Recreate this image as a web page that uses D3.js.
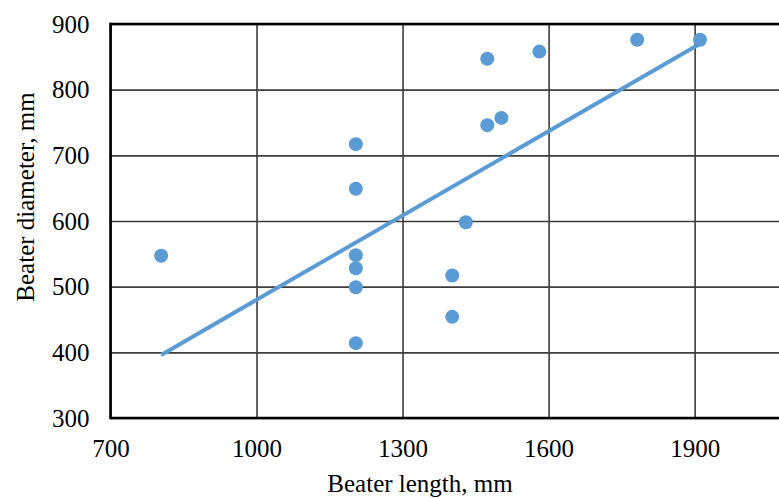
<!DOCTYPE html>
<html>
<head>
<meta charset="utf-8">
<script src="https://cdn.jsdelivr.net/npm/d3@7"></script>
<style>
  body { margin: 0; background: #fff; }
  svg { display: block; }
  .axis text { font-family: "Liberation Serif", "Times New Roman", serif; font-size: 25px; fill: #000; }
  .axis-title { font-family: "Liberation Serif", "Times New Roman", serif; font-size: 25px; fill: #000; }
</style>
</head>
<body>
<div id="chart"></div>
<script>
// beater length (mm) and diameter (mm) for each machine
let beaterLength   = [804, 1204, 1204, 1204, 1204, 1204, 1204, 1402, 1402, 1430, 1474, 1503, 1474, 1581, 1782, 1911];
let beaterDiameter = [547, 717, 649, 548, 528, 499, 414, 517, 454, 598, 746, 757, 847, 858, 876, 876];

// linear trend line, end points
let trendLength   = [804, 1911];
let trendDiameter = [396, 870];

let xTicks = [700, 1000, 1300, 1600, 1900];
let yTicks = [300, 400, 500, 600, 700, 800, 900];

let width = 779, height = 498;
let plot = { left: 110.5, top: 24, right: 792, bottom: 418 };

let svg = d3.select("#chart")
    .append("svg")
    .attr("width", width)
    .attr("height", height);

let x = d3.scaleLinear()
    .domain([700, 2100])
    .range([plot.left, plot.right]);

let y = d3.scaleLinear()
    .domain([300, 900])
    .range([plot.bottom, plot.top]);

// grid + tick labels
let xAxis = svg.append("g")
    .attr("class", "axis")
    .attr("transform", "translate(0," + plot.bottom + ")")
    .call(d3.axisBottom(x)
        .tickValues(xTicks)
        .tickFormat(d3.format("d"))
        .tickSizeInner(-(plot.bottom - plot.top))
        .tickSizeOuter(0)
        .tickPadding(21));

let yAxis = svg.append("g")
    .attr("class", "axis")
    .attr("transform", "translate(" + plot.left + ",0)")
    .call(d3.axisLeft(y)
        .tickValues(yTicks)
        .tickFormat(d3.format("d"))
        .tickSizeInner(-(plot.right - plot.left))
        .tickSizeOuter(0)
        .tickPadding(21));

svg.selectAll(".axis .domain").remove();
svg.selectAll(".axis .tick line")
    .attr("stroke", "#3c3c3c")
    .attr("stroke-width", 1.6);

// frame: top, left, bottom (right side runs off the picture)
let frame = svg.append("g")
    .attr("stroke", "#000")
    .attr("stroke-width", 2.6)
    .attr("fill", "none");
frame.append("line")
    .attr("x1", plot.left).attr("x2", plot.right)
    .attr("y1", plot.top).attr("y2", plot.top);
frame.append("line")
    .attr("x1", plot.left).attr("x2", plot.right)
    .attr("y1", plot.bottom).attr("y2", plot.bottom);
frame.append("line")
    .attr("x1", plot.left).attr("x2", plot.left)
    .attr("y1", plot.top - 1.3).attr("y2", plot.bottom + 1.3);

// trend line
let line = d3.line()
    .x(d => x(d[0]))
    .y(d => y(d[1]));

svg.append("path")
    .datum(d3.zip(trendLength, trendDiameter))
    .attr("d", line)
    .attr("fill", "none")
    .attr("stroke", "#5b9bd5")
    .attr("stroke-width", 4);

// points
svg.append("g")
    .selectAll("circle")
    .data(d3.zip(beaterLength, beaterDiameter))
    .enter()
    .append("circle")
    .attr("cx", d => x(d[0]))
    .attr("cy", d => y(d[1]))
    .attr("r", 7)
    .attr("fill", "#5b9bd5");

// axis titles
svg.append("text")
    .attr("class", "axis-title")
    .attr("x", 420)
    .attr("y", 492)
    .attr("text-anchor", "middle")
    .text("Beater length, mm");

svg.append("text")
    .attr("class", "axis-title")
    .attr("transform", "translate(34,197) rotate(-90)")
    .attr("text-anchor", "middle")
    .text("Beater diameter, mm");
</script>
</body>
</html>
